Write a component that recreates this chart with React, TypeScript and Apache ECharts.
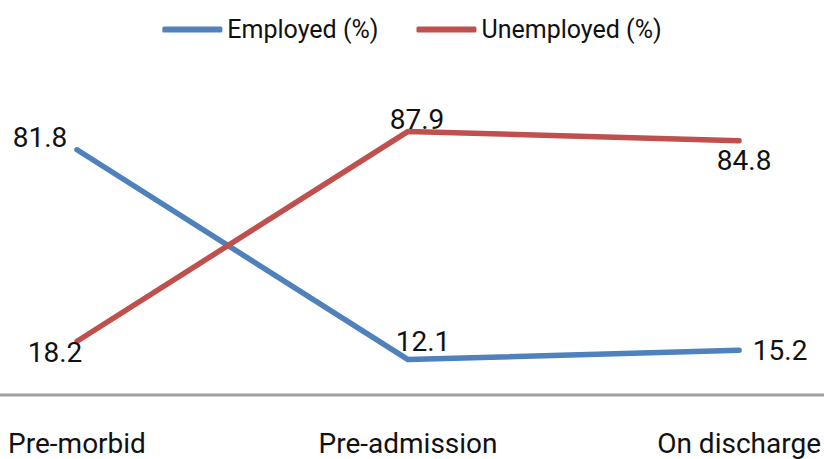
import React, { useEffect, useRef } from "react";
import * as echarts from "echarts";

const categories = ["Pre-morbid", "Pre-admission", "On discharge"];
const employed = [81.8, 12.1, 15.2];
const unemployed = [18.2, 87.9, 84.8];
const seriesNames = ["Employed (%)", "Unemployed (%)"];

// label offsets (layout only)
const employedOffsets: [number, number][] = [[-37, -12], [15, -18], [41, 0]];
const unemployedOffsets: [number, number][] = [[-22, 11], [9, -12], [5, 20]];

const FONT = "Roboto, 'Liberation Sans', sans-serif";

function makeData(values: number[], offsets: [number, number][]) {
  return values.map((v, i) => ({
    value: v,
    label: { offset: offsets[i] },
  }));
}

export default function App() {
  const ref = useRef<HTMLDivElement>(null);
  useEffect(() => {
    if (!ref.current) return;
    document.body.style.margin = "0";
    document.body.style.overflow = "hidden";
    const chart = echarts.init(ref.current, undefined, {
      renderer: "svg",
      width: 824,
      height: 459,
    });
    const labelCommon = {
      show: true,
      position: "inside" as const,
      fontFamily: FONT,
      fontSize: 28,
      color: "#111",
      align: "center" as const,
      verticalAlign: "middle" as const,
    };
    chart.setOption({
      animation: false,
      backgroundColor: "#fff",
      textStyle: { fontFamily: FONT },
      legend: {
        top: 12,
        left: "center",
        itemWidth: 60,
        itemHeight: 6,
        itemGap: 38,
        icon: "roundRect",
        textStyle: { fontFamily: FONT, fontSize: 25, color: "#111" },
        data: seriesNames,
      },
      grid: { left: 77, right: 82, top: 95, bottom: 63 },
      xAxis: {
        type: "category",
        data: categories,
        boundaryGap: false,
        axisLine: { show: false },
        axisTick: { show: false },
        axisLabel: {
          fontFamily: FONT,
          fontSize: 28,
          color: "#111",
          margin: 33,
          interval: 0,
        },
      },
      yAxis: {
        type: "value",
        min: 0,
        max: 100,
        show: false,
        splitLine: { show: false },
      },
      graphic: [
        {
          type: "line",
          shape: { x1: 0, y1: 395, x2: 824, y2: 395 },
          style: { stroke: "#a0a0a0", lineWidth: 3 },
          silent: true,
        },
      ],
      series: [
        {
          name: seriesNames[0],
          type: "line",
          data: makeData(employed, employedOffsets),
          color: "#4f81bd",
          lineStyle: { width: 5.5, color: "#4f81bd", cap: "round", join: "round" },
          symbol: "circle",
          symbolSize: 1,
          itemStyle: { color: "#4f81bd" },
          label: labelCommon,
        },
        {
          name: seriesNames[1],
          type: "line",
          data: makeData(unemployed, unemployedOffsets),
          color: "#c0504d",
          lineStyle: { width: 5.5, color: "#c0504d", cap: "round", join: "round" },
          symbol: "circle",
          symbolSize: 1,
          itemStyle: { color: "#c0504d" },
          label: labelCommon,
        },
      ],
    });
    return () => chart.dispose();
  }, []);
  return (
    <div
      ref={ref}
      style={{ position: "fixed", left: 0, top: 0, width: 824, height: 459 }}
    />
  );
}
